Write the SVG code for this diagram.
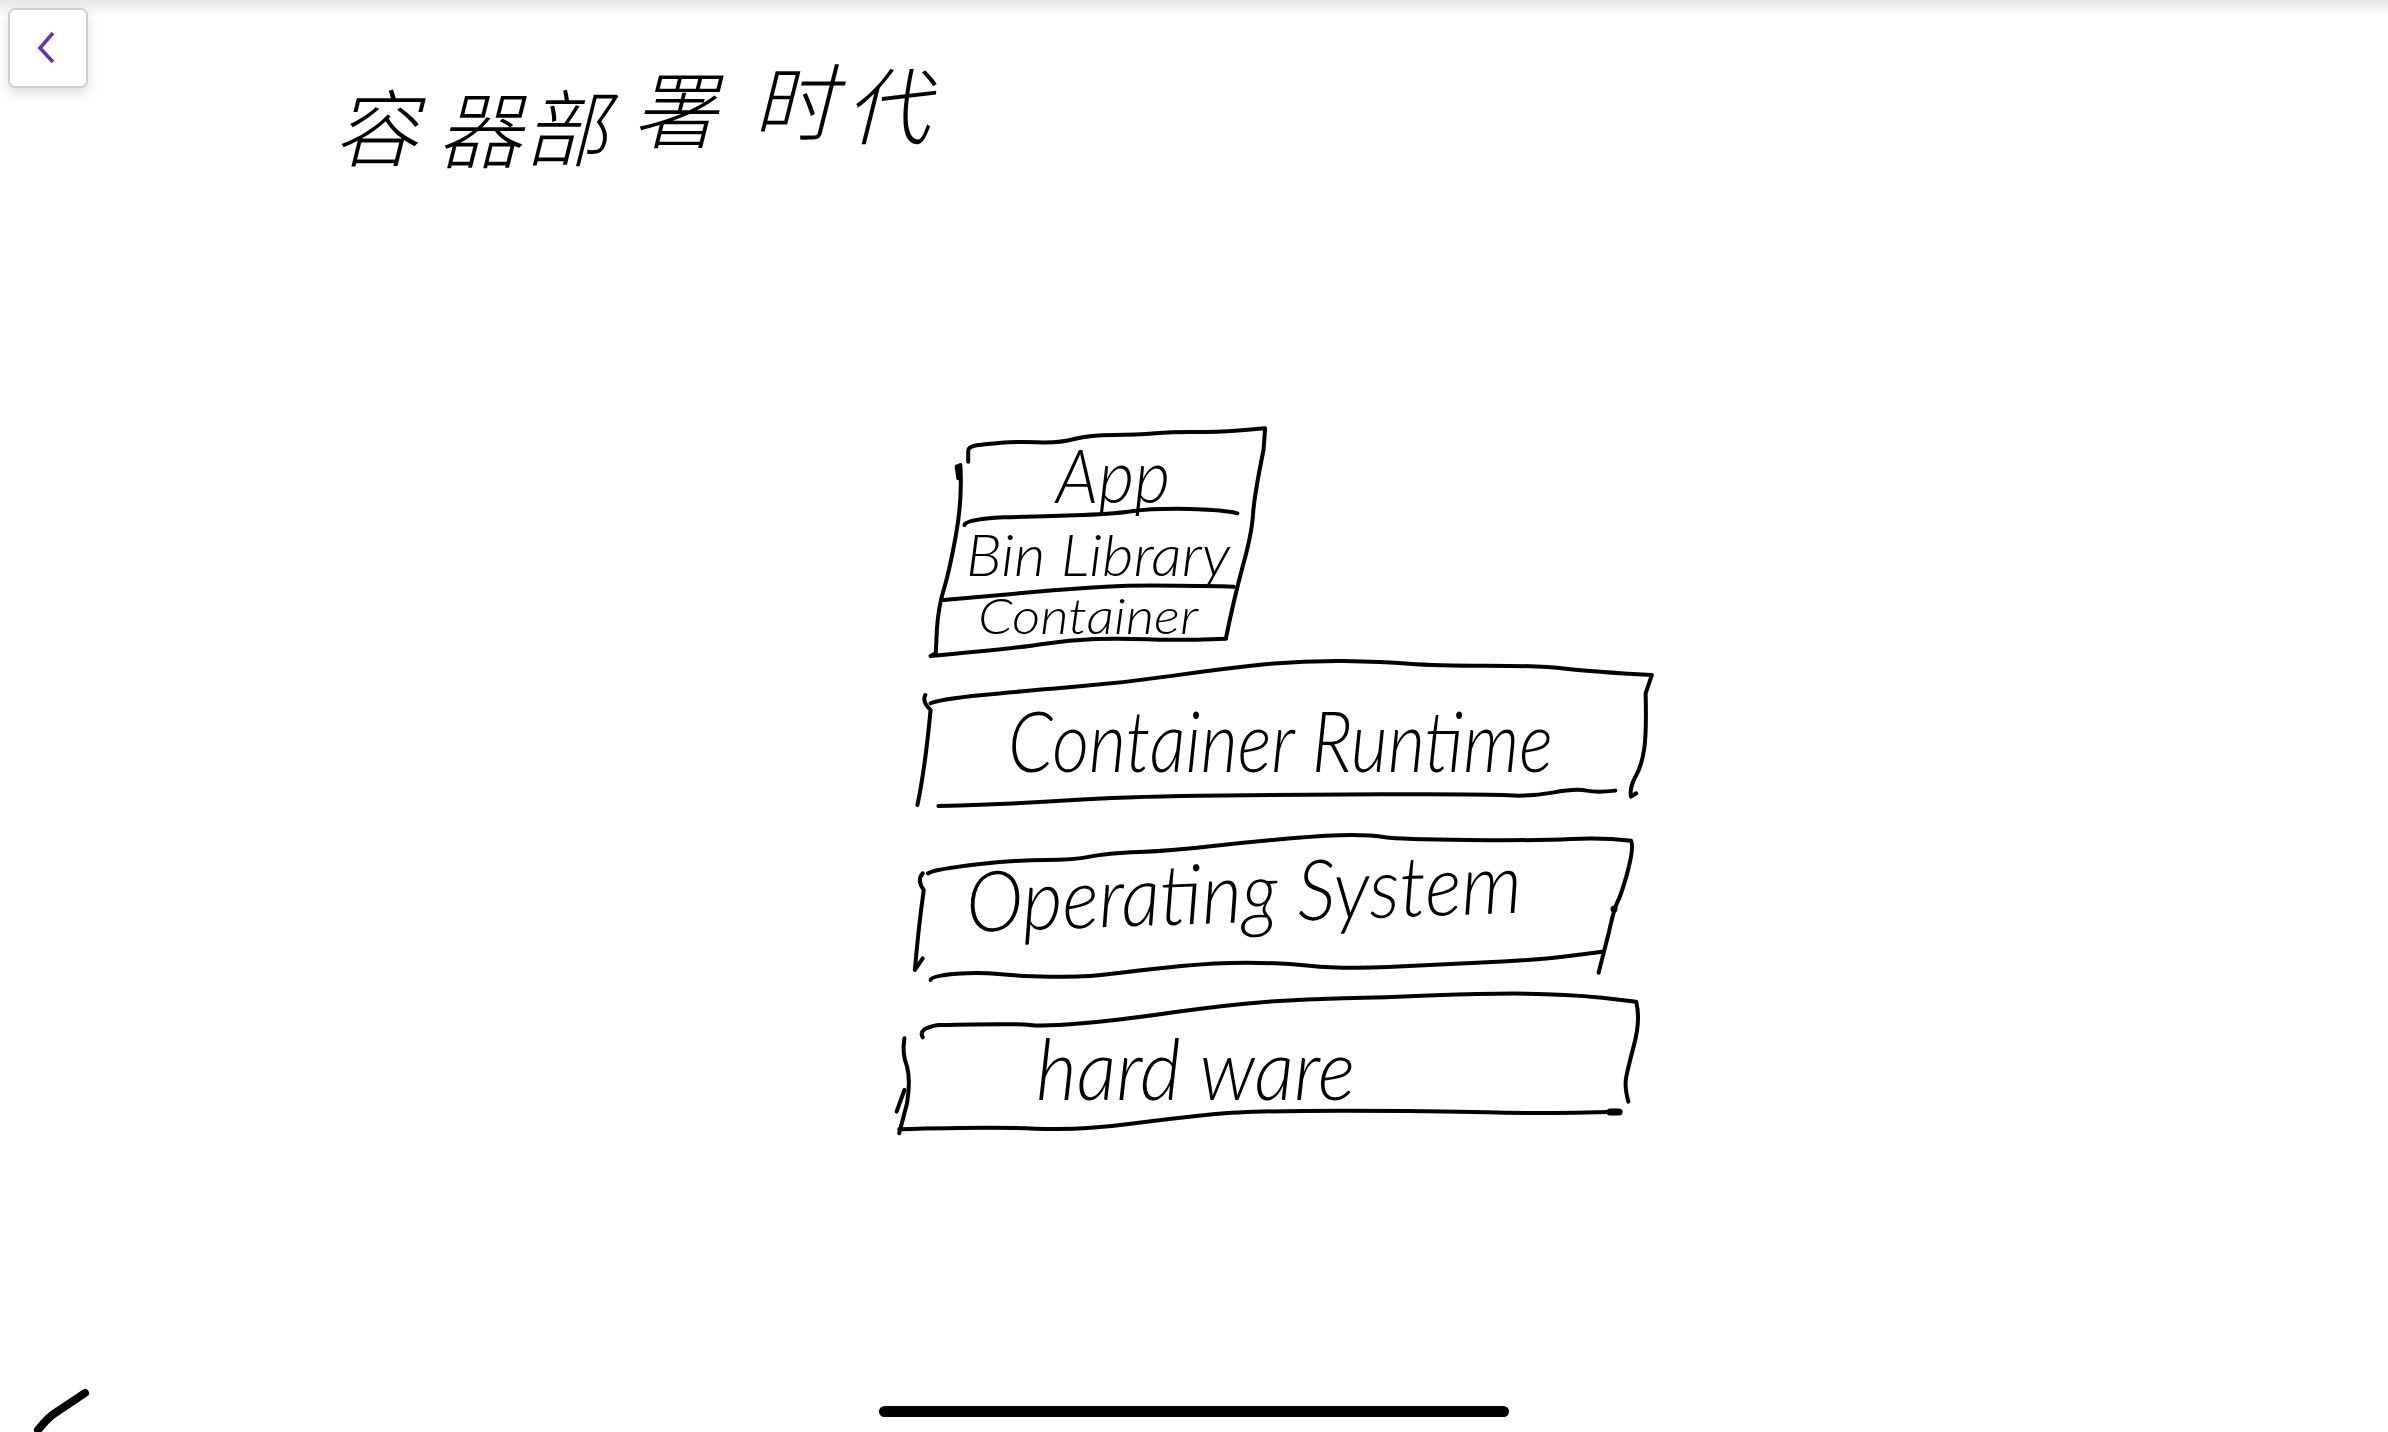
<svg xmlns="http://www.w3.org/2000/svg" width="2388" height="1432" viewBox="0 0 2388 1432">
<style>
.ink{fill:none;stroke:#000;stroke-width:4;stroke-linecap:round;stroke-linejoin:round;vector-effect:non-scaling-stroke}
.hw{font-family:"Lato","Liberation Sans",sans-serif;font-style:italic;font-weight:300;fill:#000}
.title{font-family:"Noto Sans CJK SC","Noto Sans CJK JP",sans-serif;font-weight:300;font-size:84px;fill:#000}
</style>
<defs>
<linearGradient id="top" x1="0" y1="0" x2="0" y2="1"><stop offset="0" stop-color="#e4e4e4"/><stop offset="1" stop-color="#fff"/></linearGradient>
<filter id="sh" x="-30%" y="-30%" width="160%" height="170%"><feDropShadow dx="0" dy="5" stdDeviation="6" flood-color="#000" flood-opacity=".14"/></filter>
</defs>
<rect width="2388" height="1432" fill="#fff"/>
<rect width="2388" height="16" fill="url(#top)"/>
<g id="back-button">
<rect x="9" y="9" width="78" height="78" rx="6" fill="#fff" stroke="#cfcfcf" stroke-width="2" filter="url(#sh)"/>
<path d="M53 33L40 48L53 62" fill="none" stroke="#6a2fb0" stroke-width="3.500"/>
</g>
<g id="title">
<text class="title" transform="skewX(-14)" x="374 478 564 668 786 880" y="160 162 160 142 134 138">容器部署时代</text>
</g>
<g id="container-box">
<g transform="translate(860 400) scale(.5227 .3333)">
<path class="ink" d="M207 185L207 152Q207 141 223 136Q240 132 270 128Q300 125 340 127Q380 130 410 117Q440 105 485 105Q530 105 565 100Q600 95 650 96Q700 97 775 85L772 150Q755 280 752 340Q750 400 732 500Q715 600 700 715"/>
<path class="ink" d="M188 235L185 200L192 195Q196 300 183 410Q170 520 160 570Q150 620 147 690L145 760L135 768Q300 745 350 732Q400 720 450 717Q500 715 550 718Q600 722 700 716"/>
<path class="ink" d="M200 375Q202 358 275 352Q340 350 410 346Q480 343 520 334Q560 325 630 327Q700 330 722 340"/>
<path class="ink" d="M160 600Q300 580 370 571Q440 562 500 558Q560 555 715 560"/>
</g>
<text class="hw" x="1056" y="503" font-size="74" textLength="114" lengthAdjust="spacingAndGlyphs">App</text>
<text class="hw" x="966" y="576" font-size="58" textLength="264" lengthAdjust="spacingAndGlyphs">Bin Library</text>
<text class="hw" x="978" y="634" font-size="50" textLength="220" lengthAdjust="spacingAndGlyphs">Container</text>
</g>
<g id="container-runtime">
<g transform="translate(860 400) scale(.5227 .3333)">
<path class="ink" d="M135 910Q150 898 235 885Q300 875 400 862Q500 850 600 827Q700 805 775 793Q850 782 925 783Q1000 785 1050 791Q1100 797 1200 797Q1300 797 1350 806Q1400 815 1515 825L1503 880Q1505 1000 1500 1050Q1495 1100 1483 1132Q1472 1165 1475 1190L1485 1180"/>
<path class="ink" d="M125 885Q118 905 135 930Q125 1100 110 1215"/>
<path class="ink" d="M150 1218Q300 1212 400 1201Q500 1190 650 1187Q800 1185 1000 1183Q1200 1182 1240 1186Q1280 1190 1325 1178Q1370 1165 1390 1172Q1410 1178 1445 1172"/>
</g>
<text class="hw" x="1008" y="772" font-size="84" textLength="545" lengthAdjust="spacingAndGlyphs">Container Runtime</text>
</g>
<g id="operating-system">
<g transform="translate(860 810) scale(.5227 .3333)">
<path class="ink" d="M130 190Q140 178 230 162Q300 150 355 150Q410 150 440 140Q470 130 535 126Q600 122 675 108Q750 95 825 85Q900 75 940 75Q980 75 1005 82Q1030 88 1165 90Q1300 92 1360 87Q1420 82 1475 92Q1482 110 1466 200Q1455 260 1448 280Q1442 300 1433 365L1413 488"/>
<path class="ink" d="M120 190Q108 210 122 240Q112 350 105 480L120 445"/>
<path class="ink" d="M135 510Q135 497 185 491Q230 487 265 492Q300 498 365 500Q430 503 490 490Q550 478 615 468Q680 458 740 458Q800 458 860 467Q920 477 1010 471Q1100 465 1200 457Q1300 450 1360 437L1420 425"/>
</g>
<circle cx="1614" cy="909" r="3.500" fill="#000"/>
<text class="hw" transform="rotate(-2 967 932)" x="967" y="932" font-size="84" textLength="556" lengthAdjust="spacingAndGlyphs">Operating System</text>
</g>
<g id="hardware">
<g transform="translate(860 810) scale(.5227 .3333)">
<path class="ink" d="M120 682Q110 655 150 645Q300 640 325 645Q350 650 425 640Q500 630 600 607Q700 585 775 576Q850 567 925 565Q1000 563 1100 556Q1200 550 1275 551Q1350 552 1420 563L1485 575Q1494 630 1480 710Q1470 770 1466 800Q1462 830 1470 875"/>
<path class="ink" d="M85 685Q80 730 90 770Q97 810 90 880L75 970M70 905L85 840"/>
<path class="ink" d="M75 958Q250 950 335 956Q420 962 510 943Q600 925 675 913Q750 902 925 902Q1100 902 1200 907Q1300 912 1455 905"/>
</g>
<path d="M1610 1112L1619 1112" fill="none" stroke="#000" stroke-width="7" stroke-linecap="round"/>
<text class="hw" x="1036" y="1100" font-size="84" textLength="319" lengthAdjust="spacingAndGlyphs">hard ware</text>
</g>
<path id="pen-stroke" d="M85 1393L58 1411Q48 1417 38 1430" fill="none" stroke="#000" stroke-width="8" stroke-linecap="round"/>
<rect id="home-bar" x="879" y="1406" width="630" height="11" rx="5.500" fill="#000"/>
</svg>
